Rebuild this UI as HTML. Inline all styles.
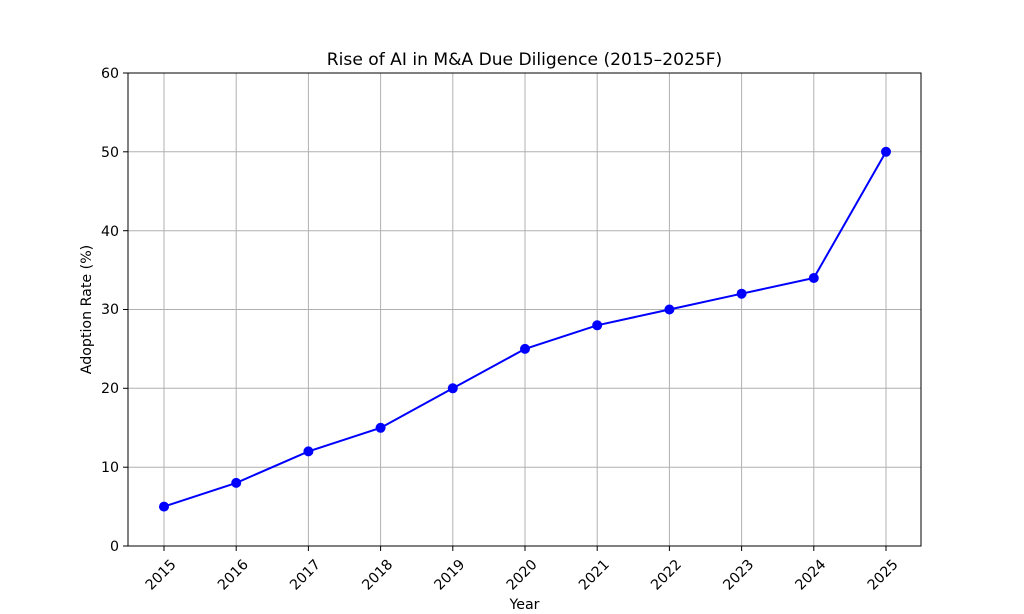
<!DOCTYPE html>
<html><head><meta charset="utf-8"><style>
html,body{margin:0;padding:0;background:#fff;}
svg{display:block;font-family:"DejaVu Sans","Liberation Sans",sans-serif;}
</style></head><body>
<svg width="1024" height="614" viewBox="0 0 1024 614" xmlns="http://www.w3.org/2000/svg">
<rect width="1024" height="614" fill="#fff"/>
<g stroke="#b0b0b0" stroke-width="1">
<line x1="164" y1="73" x2="164" y2="546"/>
<line x1="236.2" y1="73" x2="236.2" y2="546"/>
<line x1="308.4" y1="73" x2="308.4" y2="546"/>
<line x1="380.6" y1="73" x2="380.6" y2="546"/>
<line x1="452.8" y1="73" x2="452.8" y2="546"/>
<line x1="525" y1="73" x2="525" y2="546"/>
<line x1="597.2" y1="73" x2="597.2" y2="546"/>
<line x1="669.4" y1="73" x2="669.4" y2="546"/>
<line x1="741.6" y1="73" x2="741.6" y2="546"/>
<line x1="813.8" y1="73" x2="813.8" y2="546"/>
<line x1="886" y1="73" x2="886" y2="546"/>
<line x1="128" y1="467.2" x2="921" y2="467.2"/>
<line x1="128" y1="388.3" x2="921" y2="388.3"/>
<line x1="128" y1="309.5" x2="921" y2="309.5"/>
<line x1="128" y1="230.7" x2="921" y2="230.7"/>
<line x1="128" y1="151.8" x2="921" y2="151.8"/>
</g>
<rect x="128" y="73" width="793" height="473" fill="none" stroke="#000" stroke-width="1"/>
<g stroke="#000" stroke-width="1">
<line x1="123" y1="546" x2="128" y2="546"/><line x1="123" y1="467.2" x2="128" y2="467.2"/>
<line x1="123" y1="388.3" x2="128" y2="388.3"/><line x1="123" y1="309.5" x2="128" y2="309.5"/>
<line x1="123" y1="230.7" x2="128" y2="230.7"/><line x1="123" y1="151.8" x2="128" y2="151.8"/>
<line x1="123" y1="73" x2="128" y2="73"/>
<line x1="164" y1="546" x2="164" y2="551"/><line x1="236.2" y1="546" x2="236.2" y2="551"/>
<line x1="308.4" y1="546" x2="308.4" y2="551"/><line x1="380.6" y1="546" x2="380.6" y2="551"/>
<line x1="452.8" y1="546" x2="452.8" y2="551"/><line x1="525" y1="546" x2="525" y2="551"/>
<line x1="597.2" y1="546" x2="597.2" y2="551"/><line x1="669.4" y1="546" x2="669.4" y2="551"/>
<line x1="741.6" y1="546" x2="741.6" y2="551"/><line x1="813.8" y1="546" x2="813.8" y2="551"/>
<line x1="886" y1="546" x2="886" y2="551"/>
</g>
<g font-size="14.2" text-anchor="end" fill="#000">
<text x="119" y="551">0</text><text x="119" y="472">10</text><text x="119" y="393">20</text>
<text x="119" y="314">30</text><text x="119" y="236">40</text><text x="119" y="157">50</text>
<text x="119" y="78">60</text>
</g>
<g font-size="14.2" text-anchor="middle" fill="#000">
<text transform="translate(164,578) rotate(-45)">2015</text>
<text transform="translate(236.2,578) rotate(-45)">2016</text>
<text transform="translate(308.4,578) rotate(-45)">2017</text>
<text transform="translate(380.6,578) rotate(-45)">2018</text>
<text transform="translate(452.8,578) rotate(-45)">2019</text>
<text transform="translate(525,578) rotate(-45)">2020</text>
<text transform="translate(597.2,578) rotate(-45)">2021</text>
<text transform="translate(669.4,578) rotate(-45)">2022</text>
<text transform="translate(741.6,578) rotate(-45)">2023</text>
<text transform="translate(813.8,578) rotate(-45)">2024</text>
<text transform="translate(886,578) rotate(-45)">2025</text>
</g>
<text x="524.5" y="609" font-size="14.2" text-anchor="middle">Year</text>
<text transform="translate(91,309.5) rotate(-90)" font-size="14.2" text-anchor="middle">Adoption Rate (%)</text>
<text x="524.5" y="65" font-size="17.1" text-anchor="middle">Rise of AI in M&amp;A Due Diligence (2015–2025F)</text>
<polyline fill="none" stroke="#0000ff" stroke-width="2" points="164,506.6 236.2,482.9 308.4,451.4 380.6,427.8 452.8,388.3 525,348.9 597.2,325.3 669.4,309.5 741.6,293.7 813.8,278 886,151.8"/>
<g fill="#0000ff">
<circle cx="164" cy="506.6" r="5"/><circle cx="236.2" cy="482.9" r="5"/><circle cx="308.4" cy="451.4" r="5"/>
<circle cx="380.6" cy="427.8" r="5"/><circle cx="452.8" cy="388.3" r="5"/><circle cx="525" cy="348.9" r="5"/>
<circle cx="597.2" cy="325.3" r="5"/><circle cx="669.4" cy="309.5" r="5"/><circle cx="741.6" cy="293.7" r="5"/>
<circle cx="813.8" cy="278" r="5"/><circle cx="886" cy="151.8" r="5"/>
</g>
</svg>
</body></html>
